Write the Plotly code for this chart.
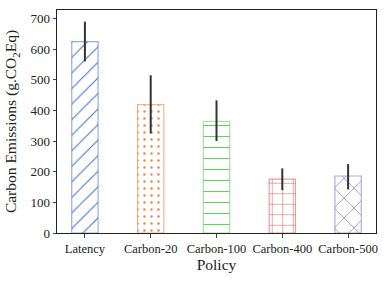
import plotly.graph_objects as go

categories = ["Latency", "Carbon-20", "Carbon-100", "Carbon-400", "Carbon-500"]
emissions = [625, 419, 364, 176, 186]
ci_high = [690, 515, 433, 211, 225]
ci_low = [560, 325, 300, 140, 142]
y_ticks = [0, 100, 200, 300, 400, 500, 600, 700]

colors = ["#4878d0", "#ee854a", "#6acc64", "#d65f5f", "#8577c8"]
edge_colors = ["rgba(72,120,208,0.6)", "rgba(238,133,74,0.6)", "rgba(106,204,100,0.6)",
               "rgba(214,95,95,0.6)", "rgba(133,119,200,0.6)"]
shapes = ["/", ".", "-", "+", "x"]

FONT = "Liberation Serif"

fig = go.Figure()
fig.add_trace(go.Bar(
    x=categories,
    y=emissions,
    width=0.4,
    marker=dict(
        color="white",
        line=dict(color=edge_colors, width=1.2),
        pattern=dict(shape=shapes, fgcolor=colors, bgcolor="white",
                     size=[11, 7, 11, 10.5, 14], solidity=0.1, fillmode="replace"),
    ),
    error_y=dict(
        type="data",
        array=[h - v for h, v in zip(ci_high, emissions)],
        arrayminus=[v - l for v, l in zip(emissions, ci_low)],
        color="#333333",
        thickness=2,
        width=0,
    ),
    showlegend=False,
))

fig.update_layout(
    width=390, height=282,
    margin=dict(l=57, r=14, t=10, b=49),
    paper_bgcolor="white", plot_bgcolor="white",
    font=dict(family=FONT, color="#222222", size=13),
    xaxis=dict(
        range=[-0.424, 4.424],
        automargin=False,
        tickangle=0,
        showline=True, linecolor="#222222", linewidth=1, mirror=True,
        ticks="outside", ticklen=3.5, tickcolor="#444444",
        showgrid=False, zeroline=False,
        tickfont=dict(family=FONT, size=12.5),
        title=dict(text="Policy", font=dict(family=FONT, size=15.5), standoff=4),
    ),
    yaxis=dict(
        range=[0, 728],
        automargin=False,
        tickvals=y_ticks,
        showline=True, linecolor="#222222", linewidth=1, mirror=True,
        ticks="outside", ticklen=3.5, tickcolor="#444444",
        showgrid=False, zeroline=False,
        tickfont=dict(family=FONT, size=13),
        title=dict(text="Carbon Emissions (g.CO<sub>2</sub>Eq)", font=dict(family=FONT, size=15.5), standoff=9),
    ),
)

fig.write_html("out.html", config={"displayModeBar": False},
               post_script="document.body.style.margin='0';")
